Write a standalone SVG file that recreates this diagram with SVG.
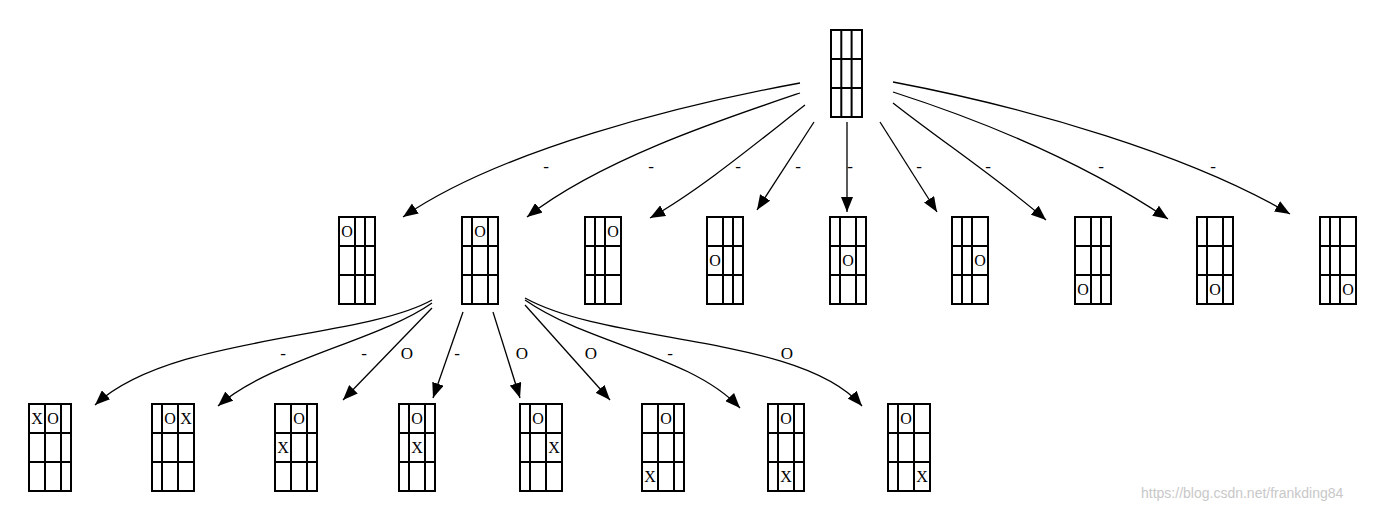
<svg xmlns="http://www.w3.org/2000/svg" width="1380" height="507" viewBox="0 0 1380 507">
<style>
.g{fill:none;stroke:#000;stroke-width:2}
.e{fill:none;stroke:#000;stroke-width:1.3;marker-end:url(#a)}
.t{font-family:"Liberation Serif",serif;font-size:16px;text-anchor:middle;fill:#000}
.l{font-family:"Liberation Serif",serif;font-size:17px;text-anchor:middle}
.w{font-family:"Liberation Sans",sans-serif;font-size:14px;fill:#c8c8c8}
</style>
<defs>
<marker id="a" markerWidth="16" markerHeight="12" refX="15" refY="6" orient="auto" markerUnits="userSpaceOnUse"><path d="M0,0 L15,6 L0,12 Z"/></marker>
</defs>
<rect width="1380" height="507" fill="#fff"/>
<g id="root" transform="translate(831,30)"><rect class="g" width="31" height="87"/><path class="g" d="M10.3,0V87M20.6,0V87M0,29H31M0,58H31"/></g>
<g id="n0" transform="translate(339,217)"><rect class="g" width="36" height="87"/><path class="g" d="M16,0V87M26,0V87M0,29H36M0,58H36"/><text class="t" x="8" y="20">O</text></g>
<g id="n1" transform="translate(462,217)"><rect class="g" width="36" height="87"/><path class="g" d="M10,0V87M26,0V87M0,29H36M0,58H36"/><text class="t" x="18" y="20">O</text></g>
<g id="n2" transform="translate(585,217)"><rect class="g" width="36" height="87"/><path class="g" d="M10,0V87M20,0V87M0,29H36M0,58H36"/><text class="t" x="28" y="20">O</text></g>
<g id="n3" transform="translate(707,217)"><rect class="g" width="36" height="87"/><path class="g" d="M16,0V87M26,0V87M0,29H36M0,58H36"/><text class="t" x="8" y="49">O</text></g>
<g id="n4" transform="translate(830,217)"><rect class="g" width="36" height="87"/><path class="g" d="M10,0V87M26,0V87M0,29H36M0,58H36"/><text class="t" x="18" y="49">O</text></g>
<g id="n5" transform="translate(952,217)"><rect class="g" width="36" height="87"/><path class="g" d="M10,0V87M20,0V87M0,29H36M0,58H36"/><text class="t" x="28" y="49">O</text></g>
<g id="n6" transform="translate(1075,217)"><rect class="g" width="36" height="87"/><path class="g" d="M16,0V87M26,0V87M0,29H36M0,58H36"/><text class="t" x="8" y="78">O</text></g>
<g id="n7" transform="translate(1197,217)"><rect class="g" width="36" height="87"/><path class="g" d="M10,0V87M26,0V87M0,29H36M0,58H36"/><text class="t" x="18" y="78">O</text></g>
<g id="n8" transform="translate(1320,217)"><rect class="g" width="36" height="87"/><path class="g" d="M10,0V87M20,0V87M0,29H36M0,58H36"/><text class="t" x="28" y="78">O</text></g>
<g id="m0" transform="translate(29,404)"><rect class="g" width="42" height="87"/><path class="g" d="M16,0V87M32,0V87M0,29H42M0,58H42"/><text class="t" x="8" y="20">X</text><text class="t" x="24" y="20">O</text></g>
<g id="m1" transform="translate(152,404)"><rect class="g" width="42" height="87"/><path class="g" d="M10,0V87M26,0V87M0,29H42M0,58H42"/><text class="t" x="18" y="20">O</text><text class="t" x="34" y="20">X</text></g>
<g id="m2" transform="translate(275,404)"><rect class="g" width="42" height="87"/><path class="g" d="M16,0V87M32,0V87M0,29H42M0,58H42"/><text class="t" x="24" y="20">O</text><text class="t" x="8" y="49">X</text></g>
<g id="m3" transform="translate(399,404)"><rect class="g" width="36" height="87"/><path class="g" d="M10,0V87M26,0V87M0,29H36M0,58H36"/><text class="t" x="18" y="20">O</text><text class="t" x="18" y="49">X</text></g>
<g id="m4" transform="translate(520,404)"><rect class="g" width="42" height="87"/><path class="g" d="M10,0V87M26,0V87M0,29H42M0,58H42"/><text class="t" x="18" y="20">O</text><text class="t" x="34" y="49">X</text></g>
<g id="m5" transform="translate(642,404)"><rect class="g" width="42" height="87"/><path class="g" d="M16,0V87M32,0V87M0,29H42M0,58H42"/><text class="t" x="24" y="20">O</text><text class="t" x="8" y="78">X</text></g>
<g id="m6" transform="translate(768,404)"><rect class="g" width="36" height="87"/><path class="g" d="M10,0V87M26,0V87M0,29H36M0,58H36"/><text class="t" x="18" y="20">O</text><text class="t" x="18" y="78">X</text></g>
<g id="m7" transform="translate(888,404)"><rect class="g" width="42" height="87"/><path class="g" d="M10,0V87M26,0V87M0,29H42M0,58H42"/><text class="t" x="18" y="20">O</text><text class="t" x="34" y="78">X</text></g>
<g id="edges">
<path class="e" d="M800,83 C680,105 500,150 403,217"/>
<path class="e" d="M800,93 C720,120 600,160 527,217"/>
<path class="e" d="M805,105 C760,140 700,190 650,218"/>
<path class="e" d="M814,122 L757,210"/>
<path class="e" d="M847,122 L847,212"/>
<path class="e" d="M880,122 L937,212"/>
<path class="e" d="M893,103 C940,140 1000,180 1046,220"/>
<path class="e" d="M893,92 C980,120 1080,160 1168,219"/>
<path class="e" d="M893,82 C1030,108 1190,155 1290,214"/>
<path class="e" d="M432,300 C360,340 170,335 95,405"/>
<path class="e" d="M432,303 C380,340 270,360 218,406"/>
<path class="e" d="M432,308 L343,400"/>
<path class="e" d="M463,312 L433,398"/>
<path class="e" d="M493,312 L520,398"/>
<path class="e" d="M525,305 L610,400"/>
<path class="e" d="M525,300 C590,345 690,355 740,408"/>
<path class="e" d="M525,298 C610,345 800,335 862,406"/>
<text class="l" x="546" y="172">-</text><text class="l" x="651" y="172">-</text><text class="l" x="738" y="172">-</text><text class="l" x="798" y="172">-</text><text class="l" x="850" y="172">-</text><text class="l" x="919" y="172">-</text><text class="l" x="988" y="172">-</text><text class="l" x="1101" y="172">-</text><text class="l" x="1213" y="172">-</text>
<text class="l" x="283" y="359">-</text><text class="l" x="364" y="359">-</text><text class="l" x="407" y="359">O</text><text class="l" x="457" y="359">-</text><text class="l" x="522" y="359">O</text><text class="l" x="591" y="359">O</text><text class="l" x="670" y="359">-</text><text class="l" x="787" y="359">O</text>
</g>
<text class="w" x="1141" y="498">https://blog.csdn.net/frankding84</text>
</svg>
